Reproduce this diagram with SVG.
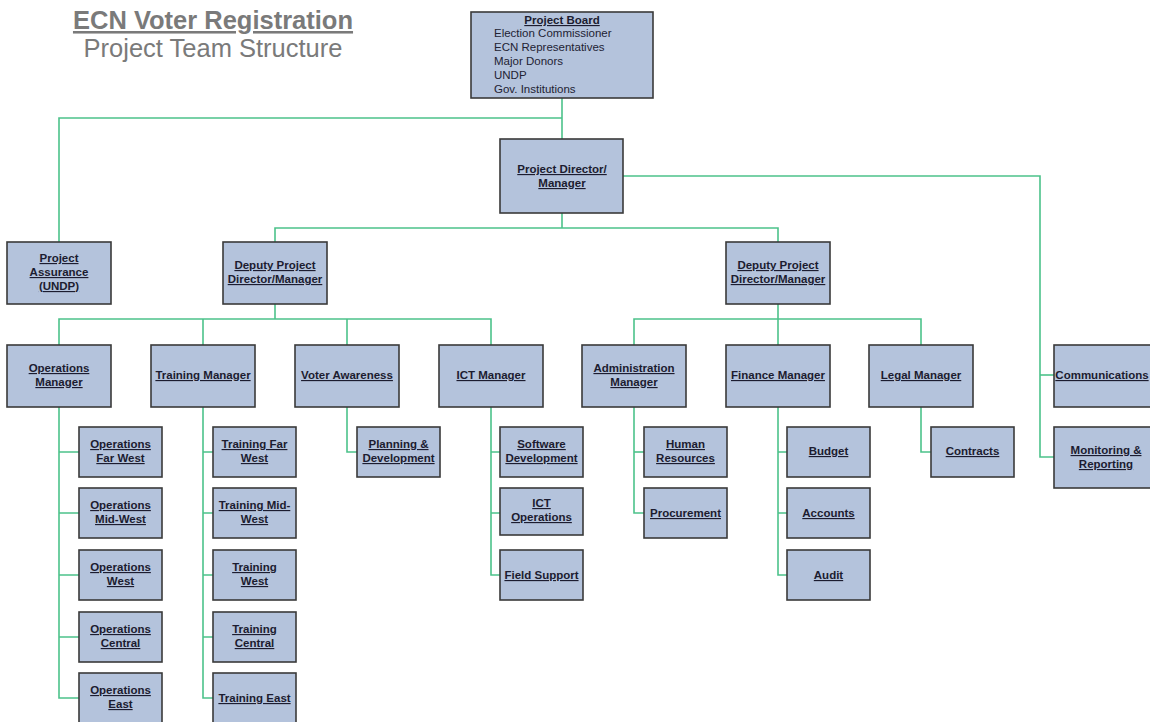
<svg xmlns="http://www.w3.org/2000/svg" width="1150" height="722" viewBox="0 0 1150 722">
  <style>
    .box { fill: #b4c3dc; stroke: #3a3a3a; stroke-width: 1.6; }
    .lbl { font-family: "Liberation Sans", Arial, sans-serif; font-size: 11.5px; font-weight: bold; fill: #1c1c30; text-anchor: middle; text-decoration: underline; }
    .item { font-family: "Liberation Sans", Arial, sans-serif; font-size: 11.5px; fill: #222233; }
    .conn { fill: none; stroke: #4cc28a; stroke-width: 1.6; }
    .title { font-family: "Liberation Sans", Arial, sans-serif; font-size: 25.5px; fill: #7a7a7a; text-anchor: middle; }
  </style>
  <rect width="1150" height="722" fill="#ffffff"/>

  <!-- heading -->
  <text class="title" x="213" y="29" font-weight="bold" text-decoration="underline">ECN Voter Registration</text>
  <text class="title" x="213" y="57">Project Team Structure</text>

  <!-- connectors -->
  <g id="connectors" class="conn">
    <path d="M562 98 V139"/>
    <path d="M562 118 H59 V242"/>
    <path d="M562 213 V228"/>
    <path d="M275 242 V228 H778 V242"/>
    <path d="M623 176 H1040 V457 H1054"/>
    <path d="M1040 375 H1054"/>
    <path d="M275 304 V319"/>
    <path d="M59 345 V319 H491 V345"/>
    <path d="M203 319 V345"/>
    <path d="M347 319 V345"/>
    <path d="M778 304 V319"/>
    <path d="M634 345 V319 H921 V345"/>
    <path d="M778 319 V345"/>
    <!-- operations -->
    <path d="M59 407 V698 H79"/>
    <path d="M59 452 H79 M59 513 H79 M59 575 H79 M59 637 H79"/>
    <!-- training -->
    <path d="M203 407 V698 H213"/>
    <path d="M203 452 H213 M203 513 H213 M203 575 H213 M203 637 H213"/>
    <!-- voter awareness -->
    <path d="M347 407 V452 H357"/>
    <!-- ICT -->
    <path d="M491 407 V575 H500"/>
    <path d="M491 452 H500 M491 513 H500"/>
    <!-- administration -->
    <path d="M634 407 V513 H644"/>
    <path d="M634 452 H644"/>
    <!-- finance -->
    <path d="M778 407 V575 H787"/>
    <path d="M778 452 H787 M778 513 H787"/>
    <!-- legal -->
    <path d="M921 407 V452 H931"/>
  </g>

  <!-- top level -->
  <g id="project-board">
    <rect class="box" x="471" y="12" width="182" height="86"/>
    <text class="lbl" x="562" y="24">Project Board</text>
    <text class="item" x="494" y="37">Election Commissioner</text>
    <text class="item" x="494" y="51">ECN Representatives</text>
    <text class="item" x="494" y="65">Major Donors</text>
    <text class="item" x="494" y="79">UNDP</text>
    <text class="item" x="494" y="93">Gov. Institutions</text>
  </g>
  <g id="project-director">
    <rect class="box" x="500" y="139" width="123" height="74"/>
    <text class="lbl" x="562" y="173">Project Director/</text>
    <text class="lbl" x="562" y="187">Manager</text>
  </g>
  <g id="project-assurance">
    <rect class="box" x="7" y="242" width="104" height="62"/>
    <text class="lbl" x="59" y="262">Project</text>
    <text class="lbl" x="59" y="276">Assurance</text>
    <text class="lbl" x="59" y="290">(UNDP)</text>
  </g>
  <g id="deputy-left">
    <rect class="box" x="223" y="242" width="104" height="62"/>
    <text class="lbl" x="275" y="269">Deputy Project</text>
    <text class="lbl" x="275" y="283">Director/Manager</text>
  </g>
  <g id="deputy-right">
    <rect class="box" x="726" y="242" width="104" height="62"/>
    <text class="lbl" x="778" y="269">Deputy Project</text>
    <text class="lbl" x="778" y="283">Director/Manager</text>
  </g>

  <!-- managers -->
  <g id="operations-manager">
    <rect class="box" x="7" y="345" width="104" height="62"/>
    <text class="lbl" x="59" y="372">Operations</text>
    <text class="lbl" x="59" y="386">Manager</text>
  </g>
  <g id="training-manager">
    <rect class="box" x="151" y="345" width="104" height="62"/>
    <text class="lbl" x="203" y="379">Training Manager</text>
  </g>
  <g id="voter-awareness">
    <rect class="box" x="295" y="345" width="104" height="62"/>
    <text class="lbl" x="347" y="379">Voter Awareness</text>
  </g>
  <g id="ict-manager">
    <rect class="box" x="439" y="345" width="104" height="62"/>
    <text class="lbl" x="491" y="379">ICT Manager</text>
  </g>
  <g id="administration-manager">
    <rect class="box" x="582" y="345" width="104" height="62"/>
    <text class="lbl" x="634" y="372">Administration</text>
    <text class="lbl" x="634" y="386">Manager</text>
  </g>
  <g id="finance-manager">
    <rect class="box" x="726" y="345" width="104" height="62"/>
    <text class="lbl" x="778" y="379">Finance Manager</text>
  </g>
  <g id="legal-manager">
    <rect class="box" x="869" y="345" width="104" height="62"/>
    <text class="lbl" x="921" y="379">Legal Manager</text>
  </g>
  <g id="communications">
    <rect class="box" x="1054" y="345" width="104" height="62"/>
    <text class="lbl" x="1102" y="379" font-size="11px">Communications</text>
  </g>
  <g id="monitoring-reporting">
    <rect class="box" x="1054" y="427" width="104" height="61"/>
    <text class="lbl" x="1106" y="454">Monitoring &amp;</text>
    <text class="lbl" x="1106" y="468">Reporting</text>
  </g>

  <!-- operations units -->
  <g id="ops-far-west">
    <rect class="box" x="79" y="427" width="83" height="50"/>
    <text class="lbl" x="120.5" y="448">Operations</text>
    <text class="lbl" x="120.5" y="462">Far West</text>
  </g>
  <g id="ops-mid-west">
    <rect class="box" x="79" y="488" width="83" height="50"/>
    <text class="lbl" x="120.5" y="509">Operations</text>
    <text class="lbl" x="120.5" y="523">Mid-West</text>
  </g>
  <g id="ops-west">
    <rect class="box" x="79" y="550" width="83" height="50"/>
    <text class="lbl" x="120.5" y="571">Operations</text>
    <text class="lbl" x="120.5" y="585">West</text>
  </g>
  <g id="ops-central">
    <rect class="box" x="79" y="612" width="83" height="50"/>
    <text class="lbl" x="120.5" y="633">Operations</text>
    <text class="lbl" x="120.5" y="647">Central</text>
  </g>
  <g id="ops-east">
    <rect class="box" x="79" y="673" width="83" height="50"/>
    <text class="lbl" x="120.5" y="694">Operations</text>
    <text class="lbl" x="120.5" y="708">East</text>
  </g>

  <!-- training units -->
  <g id="training-far-west">
    <rect class="box" x="213" y="427" width="83" height="50"/>
    <text class="lbl" x="254.5" y="448">Training Far</text>
    <text class="lbl" x="254.5" y="462">West</text>
  </g>
  <g id="training-mid-west">
    <rect class="box" x="213" y="488" width="83" height="50"/>
    <text class="lbl" x="254.5" y="509">Training Mid-</text>
    <text class="lbl" x="254.5" y="523">West</text>
  </g>
  <g id="training-west">
    <rect class="box" x="213" y="550" width="83" height="50"/>
    <text class="lbl" x="254.5" y="571">Training</text>
    <text class="lbl" x="254.5" y="585">West</text>
  </g>
  <g id="training-central">
    <rect class="box" x="213" y="612" width="83" height="50"/>
    <text class="lbl" x="254.5" y="633">Training</text>
    <text class="lbl" x="254.5" y="647">Central</text>
  </g>
  <g id="training-east">
    <rect class="box" x="213" y="673" width="83" height="50"/>
    <text class="lbl" x="254.5" y="702">Training East</text>
  </g>

  <!-- voter awareness unit -->
  <g id="planning-development">
    <rect class="box" x="357" y="427" width="83" height="50"/>
    <text class="lbl" x="398.5" y="448">Planning &amp;</text>
    <text class="lbl" x="398.5" y="462">Development</text>
  </g>

  <!-- ICT units -->
  <g id="software-development">
    <rect class="box" x="500" y="427" width="83" height="50"/>
    <text class="lbl" x="541.5" y="448">Software</text>
    <text class="lbl" x="541.5" y="462">Development</text>
  </g>
  <g id="ict-operations">
    <rect class="box" x="500" y="488" width="83" height="47"/>
    <text class="lbl" x="541.5" y="507">ICT</text>
    <text class="lbl" x="541.5" y="521">Operations</text>
  </g>
  <g id="field-support">
    <rect class="box" x="500" y="550" width="83" height="50"/>
    <text class="lbl" x="541.5" y="579">Field Support</text>
  </g>

  <!-- administration units -->
  <g id="human-resources">
    <rect class="box" x="644" y="427" width="83" height="50"/>
    <text class="lbl" x="685.5" y="448">Human</text>
    <text class="lbl" x="685.5" y="462">Resources</text>
  </g>
  <g id="procurement">
    <rect class="box" x="644" y="488" width="83" height="50"/>
    <text class="lbl" x="685.5" y="517">Procurement</text>
  </g>

  <!-- finance units -->
  <g id="budget">
    <rect class="box" x="787" y="427" width="83" height="50"/>
    <text class="lbl" x="828.5" y="455">Budget</text>
  </g>
  <g id="accounts">
    <rect class="box" x="787" y="488" width="83" height="50"/>
    <text class="lbl" x="828.5" y="517">Accounts</text>
  </g>
  <g id="audit">
    <rect class="box" x="787" y="550" width="83" height="50"/>
    <text class="lbl" x="828.5" y="579">Audit</text>
  </g>

  <!-- legal unit -->
  <g id="contracts">
    <rect class="box" x="931" y="427" width="83" height="50"/>
    <text class="lbl" x="972.5" y="455">Contracts</text>
  </g>
</svg>
